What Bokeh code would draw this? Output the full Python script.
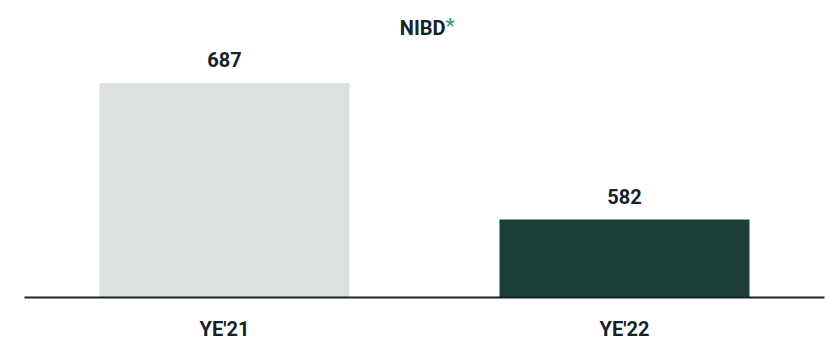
from bokeh.plotting import figure
from bokeh.models import Range1d, ColumnDataSource
from bokeh.core.properties import value
from bokeh.embed import file_html
from bokeh.resources import INLINE

categories = ["YE'21", "YE'22"]
values = [687, 582]
bar_colors = ["#dce1df", "#1b3f37"]
title_text = "NIBD"
title_mark = "*"

FONT = "Roboto"
TEXT = "#16232a"
MARK = "#3d9a7f"
Y0, Y1 = 522, 750.4

src = ColumnDataSource(dict(cat=categories, val=values, color=bar_colors,
                            label=[str(v) for v in values]))

p = figure(x_range=categories, y_range=Range1d(Y0, Y1), width=825, height=343,
           output_backend="svg", toolbar_location=None,
           min_border_left=24, min_border_right=1, min_border_top=0, min_border_bottom=45)

p.vbar(x="cat", top="val", bottom=0, width=0.625, fill_color="color",
       line_color=None, source=src)

p.text(x="cat", y="val", text="label", y_offset=-23, text_align="center",
       text_baseline="middle", text_font=value(FONT), text_font_size="20px",
       text_font_style="bold", text_color=TEXT, source=src)

p.text(x=[1.0], y=[Y1], text=[title_text], x_offset=21, y_offset=27,
       text_align="right", text_baseline="middle", text_font=value(FONT),
       text_font_size="20px", text_font_style="bold", text_color=TEXT)
p.text(x=[1.0], y=[Y1], text=[title_mark], x_offset=21, y_offset=25,
       text_align="left", text_baseline="middle", text_font=value(FONT),
       text_font_size="20px", text_font_style="bold", text_color=MARK)

p.xaxis.axis_line_width = 2
p.xaxis.axis_line_color = TEXT
p.xaxis.major_tick_line_color = None
p.xaxis.minor_tick_line_color = None
p.xaxis.major_tick_out = 0
p.xaxis.major_tick_in = 0
p.xaxis.major_label_text_font = FONT
p.xaxis.major_label_text_font_size = "20px"
p.xaxis.major_label_text_font_style = "bold"
p.xaxis.major_label_text_color = TEXT
p.xaxis.major_label_standoff = 19
p.yaxis.visible = False
p.grid.visible = False
p.outline_line_color = None
p.background_fill_color = "white"
p.border_fill_color = "white"

open("out.html", "w").write(file_html(p, INLINE))
